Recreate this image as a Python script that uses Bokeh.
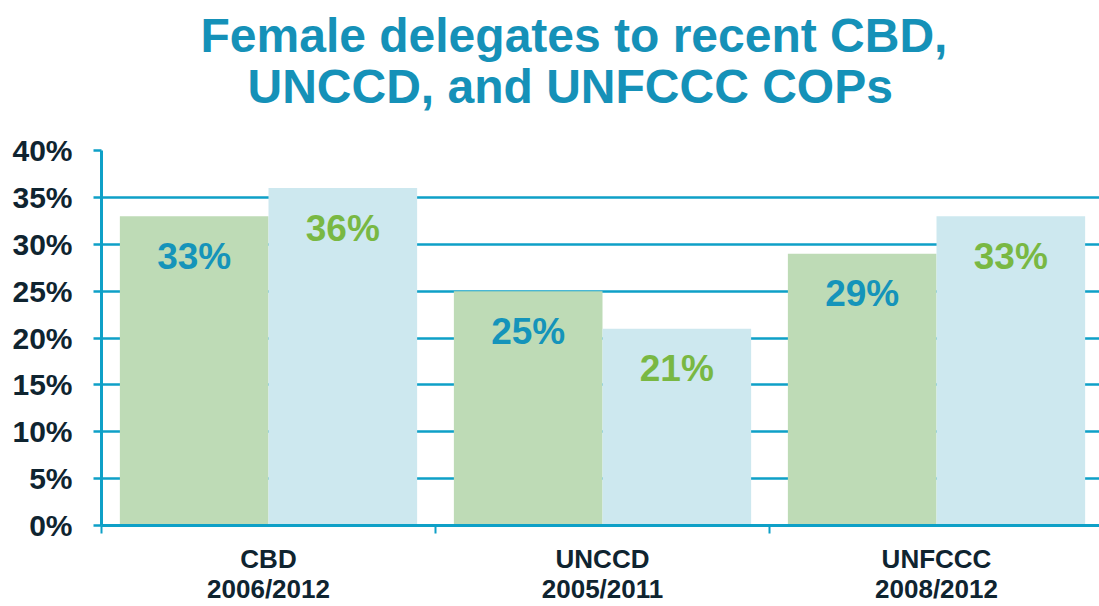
from bokeh.plotting import figure
from bokeh.models import ColumnDataSource, Range1d, FixedTicker, PrintfTickFormatter, Title
from bokeh.transform import dodge
from bokeh.core.properties import value
from bokeh.embed import file_html
from bokeh.resources import INLINE

# ---- data ----
categories = ["CBD\n2006/2012", "UNCCD\n2005/2011", "UNFCCC\n2008/2012"]
earlier = [33, 25, 29]   # first COP year (green)
recent = [36, 21, 33]    # second COP year (light blue)
y_ticks = [0, 5, 10, 15, 20, 25, 30, 35, 40]
title_lines = ["Female delegates to recent CBD,", "UNCCD, and UNFCCC COPs"]

TEAL = "#0ea0c7"
TITLE = "#1591b8"
DARK = "#0f2430"
GREEN_BAR = "#bedbb6"
BLUE_BAR = "#cde8ef"
LBL_TEAL = "#1594ba"
LBL_GREEN = "#79b843"
FONT = "Liberation Sans"

centers = [i + 0.5 for i in range(len(categories))]
src = ColumnDataSource(dict(
    x=centers,
    earlier=earlier,
    recent=recent,
    earlier_lbl=[f"{v}%" for v in earlier],
    recent_lbl=[f"{v}%" for v in recent],
))

p = figure(width=1099, height=606, output_backend="svg", toolbar_location=None,
           title=None,
           x_range=Range1d(0, 2.988), y_range=Range1d(0, 40),
           min_border_left=101, min_border_right=0, min_border_top=150,
           min_border_bottom=80)
p.outline_line_color = None
p.background_fill_color = "white"

t2 = Title(text=title_lines[1], align="left", text_font=FONT, text_font_size="48px",
           text_font_style="bold", text_color=TITLE, standoff=76, offset=146)
t1 = Title(text=title_lines[0], align="left", text_font=FONT, text_font_size="48px",
           text_font_style="bold", text_color=TITLE, standoff=-84, offset=99)
p.add_layout(t2, "above")
p.add_layout(t1, "above")

bw = 0.445
p.vbar(x=dodge("x", -bw / 2, range=p.x_range), top="earlier", width=bw, bottom=0,
       source=src, fill_color=GREEN_BAR, line_color=None)
p.vbar(x=dodge("x", bw / 2, range=p.x_range), top="recent", width=bw, bottom=0,
       source=src, fill_color=BLUE_BAR, line_color=None)

p.text(x=dodge("x", -bw / 2, range=p.x_range), y="earlier", text="earlier_lbl",
       source=src, y_offset=40, text_align="center", text_baseline="middle",
       text_font=value(FONT), text_font_size="37px", text_font_style="bold",
       text_color=LBL_TEAL)
p.text(x=dodge("x", bw / 2, range=p.x_range), y="recent", text="recent_lbl",
       source=src, y_offset=40, text_align="center", text_baseline="middle",
       text_font=value(FONT), text_font_size="37px", text_font_style="bold",
       text_color=LBL_GREEN)

# grid
p.xgrid.grid_line_color = None
p.ygrid.ticker = FixedTicker(ticks=y_ticks)
p.ygrid.grid_line_color = TEAL
p.ygrid.grid_line_width = 2.5

# y axis
ya = p.yaxis[0]
ya.ticker = FixedTicker(ticks=y_ticks)
ya.formatter = PrintfTickFormatter(format="%d%%")
ya.axis_line_color = TEAL
ya.axis_line_width = 3
ya.major_tick_line_color = TEAL
ya.major_tick_line_width = 2.5
ya.major_tick_out = 8
ya.major_tick_in = 0
ya.minor_tick_line_color = None
ya.major_label_text_font = FONT
ya.major_label_text_font_size = "30px"
ya.major_label_text_font_style = "bold"
ya.major_label_text_color = DARK
ya.major_label_standoff = 21

# x axis: labels at centres, small ticks at category boundaries
xa = p.xaxis[0]
xa.ticker = FixedTicker(ticks=centers, minor_ticks=[0, 1, 2, 3])
xa.major_label_overrides = {c: lab for c, lab in zip(centers, categories)}
xa.axis_line_color = TEAL
xa.axis_line_width = 3
xa.major_tick_line_color = None
xa.major_tick_out = 0
xa.major_tick_in = 0
xa.minor_tick_line_color = TEAL
xa.minor_tick_line_width = 2
xa.minor_tick_out = 8
xa.minor_tick_in = 0
xa.major_label_text_font = FONT
xa.major_label_text_font_size = "26px"
xa.major_label_text_font_style = "bold"
xa.major_label_text_color = DARK
xa.major_label_text_line_height = 1.0
xa.major_label_standoff = 10

open("out.html", "w").write(file_html(p, INLINE))
